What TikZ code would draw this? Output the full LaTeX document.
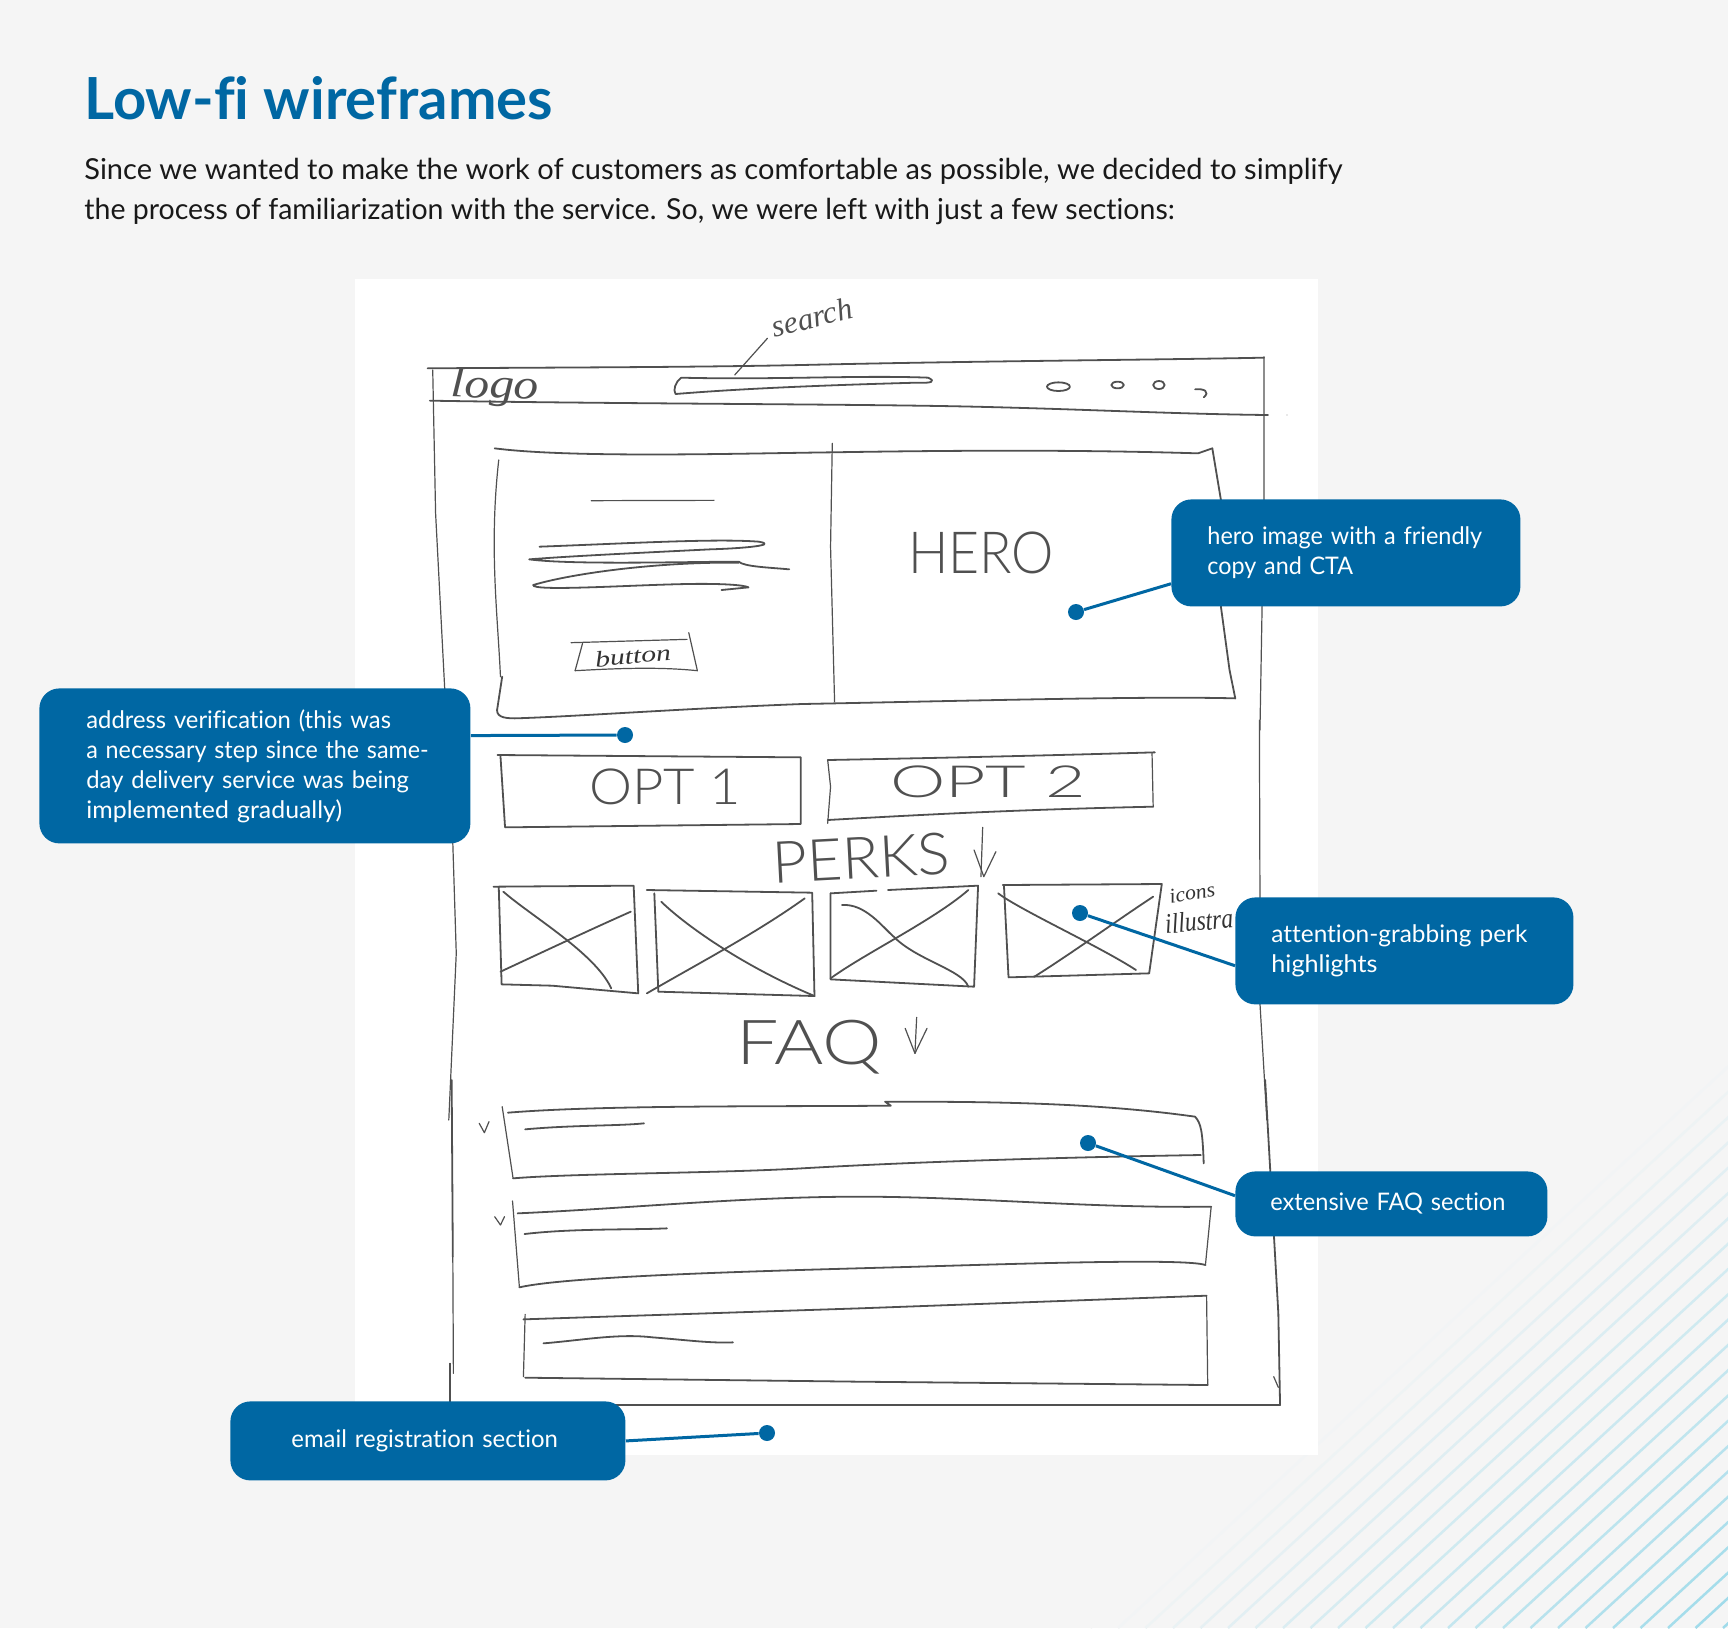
\documentclass[tikz,border=0pt]{standalone}
\usepackage{fontspec}
\setmainfont{Lato}[Ligatures=NoCommon]
\newfontfamily\handit{Liberation Serif Italic}
\newfontfamily\handcap{Lato Light}
\definecolor{brand}{HTML}{0067A3}
\definecolor{pagebg}{HTML}{F5F5F5}
\definecolor{sketch}{HTML}{505050}
\definecolor{hatch}{HTML}{A0DBEA}
\tikzset{
  sk/.style={draw=sketch,line width=0.9pt,line join=round,line cap=round},
  skthin/.style={draw=sketch,line width=0.6pt,line join=round,line cap=round},
  handtext/.style={inner sep=0pt,text=sketch},
  handdark/.style={inner sep=0pt,text=black!80},
  callout/.style={fill=brand,text=white,rounded corners=10pt,inner sep=0pt,anchor=north west,align=left,font=\fontsize{12.1}{15}\selectfont},
  dotn/.style={circle,fill=brand,inner sep=0pt,minimum size=8pt},
  conn/.style={draw=brand,line width=1.5pt},
  zoomA/.style={shift={(400,280)},x=0.28703pt,y=-0.16667pt},
  zoomB/.style={shift={(400,720)},x=0.28703pt,y=-0.16667pt},
  zoomC/.style={shift={(400,1080)},x=0.28703pt,y=-0.16667pt},
}
\newcommand{\hand}[4]{\resizebox*{#1pt}{#2pt}{#3{}#4}}
\newcommand{\lw}[2]{\mbox{\scalebox{#1}[1]{#2}}}
\begin{document}
\begin{tikzpicture}[x=0.5pt,y=-0.5pt]
\useasboundingbox (0,0) rectangle (1728,1628);
\fill[pagebg] (0,0) rectangle (1728,1628);
\begin{scope}
\clip (0,0) rectangle (1728,1628);
\foreach \k in {-13,...,10}{
  \pgfmathsetmacro{\tt}{max(0,min(100,(1448+\k*27.5-1095)/6.1))}
  \draw[hatch!\tt!pagebg,line width=1.25pt] ({1448+\k*27.5},1628) -- ++(700,-644);
}
\end{scope}
\fill[white] (355,279) rectangle (1318,1455);

% ---- sketch: header and hero
\begin{scope}[zoomA]
\draw[sk] (48,265) .. controls (300,262) and (500,262) .. (700,255) .. controls (1000,243) and (1300,240) .. (1505,233);
\draw[skthin] (1505,230) -- (1505,650) -- (1498,1350);
\draw[skthin] (57,270) -- (62,700) -- (78,1230);
\draw[sk] (52,362) .. controls (400,372) and (800,372) .. (1000,380) .. controls (1200,388) and (1350,402) .. (1512,405);
\fill[sketch] (1545,405) circle (1);
\draw[skthin] (640,175) -- (583,285);
\draw[sk] (490,293) .. controls (650,300) and (800,285) .. (920,293) .. controls (935,305) and (925,310) .. (900,308) .. controls (750,315) and (600,325) .. (480,342) .. controls (475,330) and (480,305) .. (490,293);
\draw[sk] (1147,320) ellipse [x radius=20,y radius=13];
\draw[sk] (1250,315) ellipse [x radius=11,y radius=10];
\draw[sk] (1322,315) ellipse [x radius=10,y radius=12];
\draw[sk] (1385,328) .. controls (1400,325) and (1412,335) .. (1400,352);
\draw[sk] (165,505) .. controls (300,535) and (600,520) .. (750,517) .. controls (1000,510) and (1200,510) .. (1390,520) -- (1415,505);
\draw[sk] (1415,505) -- (1430,660) -- (1430,980) -- (1445,1170) -- (1455,1255);
\draw[sk] (1455,1255) .. controls (1300,1248) and (1000,1262) .. (700,1272) .. controls (500,1285) and (300,1310) .. (200,1315) .. controls (180,1315) and (165,1310) .. (170,1280) -- (178,1190);
\draw[skthin] (172,540) .. controls (155,800) and (170,1000) .. (175,1190);
\draw[skthin] (753,490) -- (750,800) -- (757,1265);
\draw[skthin] (333,662) -- (547,661);
\draw[sk] (243,800) .. controls (400,790) and (550,775) .. (625,785) .. controls (660,795) and (600,805) .. (540,808) .. controls (400,820) and (300,828) .. (225,838) .. controls (300,855) and (500,845) .. (590,845) .. controls (600,860) and (640,862) .. (678,868);
\draw[sk] (590,848) .. controls (450,845) and (300,880) .. (232,915) .. controls (230,935) and (400,915) .. (500,912) .. controls (560,910) and (600,915) .. (607,922) -- (560,930);
\draw[skthin] (298,1088) -- (500,1078);
\draw[skthin] (503,1058) -- (518,1172);
\draw[skthin] (518,1172) .. controls (450,1160) and (380,1165) .. (305,1172);
\draw[skthin] (305,1172) -- (318,1090);
\end{scope}
\node[handtext,rotate=-2] (tlogo) at (495,388) {\hand{44}{19}{\handit}{logo}};
\node[handtext,rotate=14] (tsearch) at (812,317) {\hand{41}{11}{\handit}{search}};
\node[handdark,rotate=5] (tbutton) at (633,656) {\hand{38}{8}{\handit}{button}};
\node[handtext] (thero) at (981,553) {\hand{73}{21}{\handcap}{HERO}};

% ---- sketch: options and perks
\begin{scope}[zoomB]
\draw[sk] (170,105) -- (698,112) -- (698,312) -- (183,322) -- (175,108);
\draw[sk] (745,120) .. controls (900,115) and (1100,108) .. (1315,97);
\draw[skthin] (1310,100) -- (1312,260);
\draw[sk] (1312,260) .. controls (1100,268) and (950,280) .. (745,300);
\draw[skthin] (745,120) -- (750,200) -- (745,310);
\draw[skthin] (1015,322) -- (1012,470);
\draw[skthin] (1000,390) -- (1017,470) -- (1038,395);
\draw[sk] (163,500) -- (407,497) -- (415,820) -- (265,797) -- (177,793) -- (172,500);
\draw[sk] (180,515) .. controls (230,590) and (340,700) .. (368,805);
\draw[sk] (175,755) .. controls (250,695) and (330,630) .. (402,575);
\draw[sk] (430,510) -- (718,518) -- (722,828) -- (450,815) -- (443,520);
\draw[sk] (455,545) .. controls (500,620) and (600,740) .. (722,828);
\draw[sk] (430,820) .. controls (520,730) and (620,640) .. (705,535);
\draw[sk] (750,520) -- (830,512);
\draw[sk] (850,510) -- (1007,497) -- (1000,800) -- (750,778) -- (750,520);
\draw[sk] (770,555) .. controls (810,550) and (840,620) .. (860,650) .. controls (900,720) and (980,750) .. (990,800);
\draw[sk] (750,775) .. controls (810,700) and (930,600) .. (990,510);
\draw[sk] (1050,495) -- (1327,492) -- (1305,760) -- (1060,772) -- (1052,495);
\draw[sk] (1042,520) .. controls (1080,570) and (1220,680) .. (1282,750);
\draw[sk] (1105,770) .. controls (1170,700) and (1250,600) .. (1312,530);
\draw[skthin] (900,892) -- (897,1000);
\draw[skthin] (880,925) -- (897,1000) -- (918,925);
\draw[skthin] (92,370) -- (98,700) -- (85,1200);
\draw[skthin] (1497,0) -- (1498,530) -- (1498,850) -- (1510,1200);
\end{scope}
\node[handtext] (topta) at (665,787) {\hand{76}{18}{\handcap}{OPT 1}};
\node[handtext] (toptb) at (988,782) {\hand{98}{16}{\handcap}{OPT 2}};
\node[handtext,rotate=3] (tperks) at (861,858) {\hand{89}{21}{\handcap}{PERKS}};
\node[handdark,rotate=10] (ticons) at (1192,893) {\hand{23}{7}{\handit}{icons}};
\node[handdark,rotate=5] (tillus) at (1199,921) {\hand{34}{10}{\handit}{illustra}};
\node[handtext] (tfaq) at (809,1047) {\hand{73}{27}{\handcap}{FAQ}};

% ---- sketch: FAQ rows and frame
\begin{scope}[zoomC]
\draw[sk] (188,98) .. controls (350,75) and (650,80) .. (855,77) -- (845,65) .. controls (1000,65) and (1200,65) .. (1385,110) .. controls (1395,130) and (1398,150) .. (1400,250);
\draw[sk] (1395,225) .. controls (1150,232) and (900,245) .. (700,265) .. controls (550,280) and (300,280) .. (197,295);
\draw[skthin] (178,80) -- (197,295);
\draw[skthin] (138,130) -- (147,158) -- (155,125);
\draw[sk] (218,148) .. controls (300,135) and (380,138) .. (425,130);
\draw[sk] (205,400) .. controls (400,385) and (600,350) .. (800,350) .. controls (1000,350) and (1200,385) .. (1413,380);
\draw[skthin] (1413,380) -- (1403,555);
\draw[sk] (1403,555) .. controls (1370,535) and (1100,550) .. (900,560) .. controls (700,570) and (300,585) .. (208,622);
\draw[skthin] (196,363) -- (208,622);
\draw[skthin] (165,410) -- (175,435) -- (182,410);
\draw[sk] (217,462) .. controls (300,445) and (400,450) .. (465,445);
\draw[sk] (215,718) -- (800,685) -- (1405,647);
\draw[skthin] (1405,647) -- (1407,915);
\draw[sk] (1407,915) -- (800,905) -- (218,893);
\draw[skthin] (218,703) -- (215,890);
\draw[sk] (250,790) .. controls (320,780) and (380,760) .. (440,772) .. controls (500,780) and (540,790) .. (580,787);
\draw[sk] (90,0) -- (92,530);
\draw[skthin] (92,530) -- (93,880);
\draw[skthin] (87,850) -- (87,975);
\draw[sk] (87,975) -- (1533,975);
\draw[sk] (1507,0) -- (1530,700) -- (1533,975);
\draw[skthin] (1522,890) -- (1530,922);
\end{scope}

% ---- heading
\node[anchor=west,inner sep=0pt,text=brand,font=\fontsize{29}{29}\selectfont\bfseries] (title) at (84,98) {Low-fi wireframes};
\node[anchor=north west,inner sep=0pt,align=left,text=black!90,font=\fontsize{14.45}{20}\selectfont] (intro) at (84,158) {\lw{1.0035}{Since we wanted to make the work of customers as comfortable as possible, we decided to simplify}\\\lw{0.986}{the process of familiarization with the service. So, we were left with just a few sections:}};

% ---- callouts
\node[callout,minimum width=174.5pt,minimum height=53.5pt,text width=138.5pt] (hero) at (1171,499) {\lw{0.969}{hero image with a friendly}\\\lw{0.964}{copy and CTA}};
\node[callout,minimum width=215.5pt,minimum height=77.5pt,text width=168.5pt] (addr) at (39,688) {\lw{0.982}{address verification (this was}\\\lw{0.963}{a necessary step since the same-}\\\lw{0.983}{day delivery service was being}\\\lw{1.027}{implemented gradually)}};
\node[callout,minimum width=169pt,minimum height=53.5pt,text width=133pt] (perk) at (1235,897) {\lw{1.009}{attention-grabbing perk}\\\lw{1.04}{highlights}};
\node[callout,minimum width=156pt,minimum height=32.5pt,text width=121pt] (faq) at (1235,1171) {\lw{0.975}{extensive FAQ section}};
\node[callout,minimum width=197.5pt,minimum height=39.5pt,text width=136.5pt] (email) at (230,1401) {\lw{0.988}{email registration section}};

\node[dotn] (dhero) at (1076,612) {};
\node[dotn] (daddr) at (625,735) {};
\node[dotn] (dperk) at (1080,913) {};
\node[dotn] (dfaq) at (1088,1143) {};
\node[dotn] (demail) at (767,1433) {};
\draw[conn] (dhero) -- (hero.190.5);
\draw[conn] (daddr) -- (addr.8.05);
\draw[conn] (dperk) -- (perk.185.2);
\draw[conn] (dfaq) -- (faq.177.2);
\draw[conn] (demail) -- (email.east);
\end{tikzpicture}
\end{document}
